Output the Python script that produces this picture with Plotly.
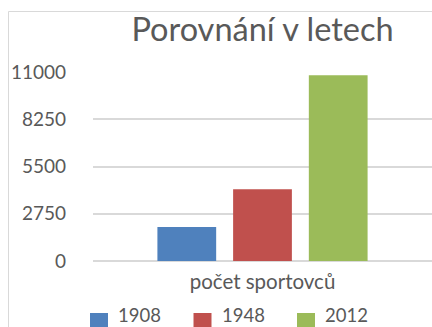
import plotly.graph_objects as go

# Počet sportovců na olympijských hrách ve vybraných letech
category = ["počet sportovců"]
years = ["1908", "1948", "2012"]
athletes = [1980, 4180, 10810]
colors = ["#4f81bd", "#c0504d", "#9bbb59"]
y_ticks = [0, 2750, 5500, 8250, 11000]

FONT = "Lato"
TEXT = "#595959"
GRID = "#d9d9d9"

W, H = 432, 327
ML, MR, MT, MB = 93, 0, 72, 66

fig = go.Figure()
for year, value, color in zip(years, athletes, colors):
    fig.add_trace(go.Bar(
        x=category, y=[value], name=year, showlegend=False,
        marker=dict(color=color, line=dict(width=0)),
    ))

pw = W - ML - MR
ph = H - MT - MB


def px_x(px):
    return (px - ML) / pw


def px_y(py):
    return (H - MB - py) / ph


# light chart-area frame (left and top edges visible)
fig.add_shape(type="rect", xref="paper", yref="paper",
              x0=px_x(8.5), x1=1.5, y0=-1.0, y1=px_y(11.5),
              line=dict(color=GRID, width=1), layer="below")

# legend row below the category label
for i, (year, color) in enumerate(zip(years, colors)):
    left = 90 + i * 103.5
    fig.add_shape(type="rect", xref="paper", yref="paper",
                  x0=px_x(left), x1=px_x(left + 18),
                  y0=px_y(332), y1=px_y(313),
                  fillcolor=color, line=dict(width=0))
    fig.add_annotation(text=year, xref="paper", yref="paper",
                       x=px_x(left + 27), xanchor="left",
                       y=px_y(327), yanchor="bottom", showarrow=False,
                       borderpad=0,
                       font=dict(size=18.5, color=TEXT, family=FONT))

fig.update_layout(
    width=W, height=H,
    margin=dict(l=ML, r=MR, t=MT, b=MB, autoexpand=False),
    paper_bgcolor="white", plot_bgcolor="white",
    font=dict(family=FONT, color=TEXT, size=19),
    title=dict(text="Porovnání v letech", x=0.5, xref="paper",
               y=1 - 30 / H, yanchor="middle", yref="container",
               font=dict(size=32.5, color=TEXT, family=FONT)),
    barmode="group", bargap=0.33, bargroupgap=0.224,
    showlegend=False,
    xaxis=dict(showgrid=False, showline=False, zeroline=False,
               ticks="", ticklabelstandoff=6, automargin=False,
               tickfont=dict(size=20.5, color=TEXT)),
    yaxis=dict(range=[0, 11000], tickvals=y_ticks,
               ticktext=[str(v) for v in y_ticks],
               showgrid=True, gridcolor=GRID, gridwidth=1.5,
               zeroline=True, zerolinecolor=GRID, zerolinewidth=1.5,
               showline=False, ticks="", ticklabelstandoff=26,
               automargin=False,
               tickfont=dict(size=19, color=TEXT)),
)

fig.write_html("out.html")
